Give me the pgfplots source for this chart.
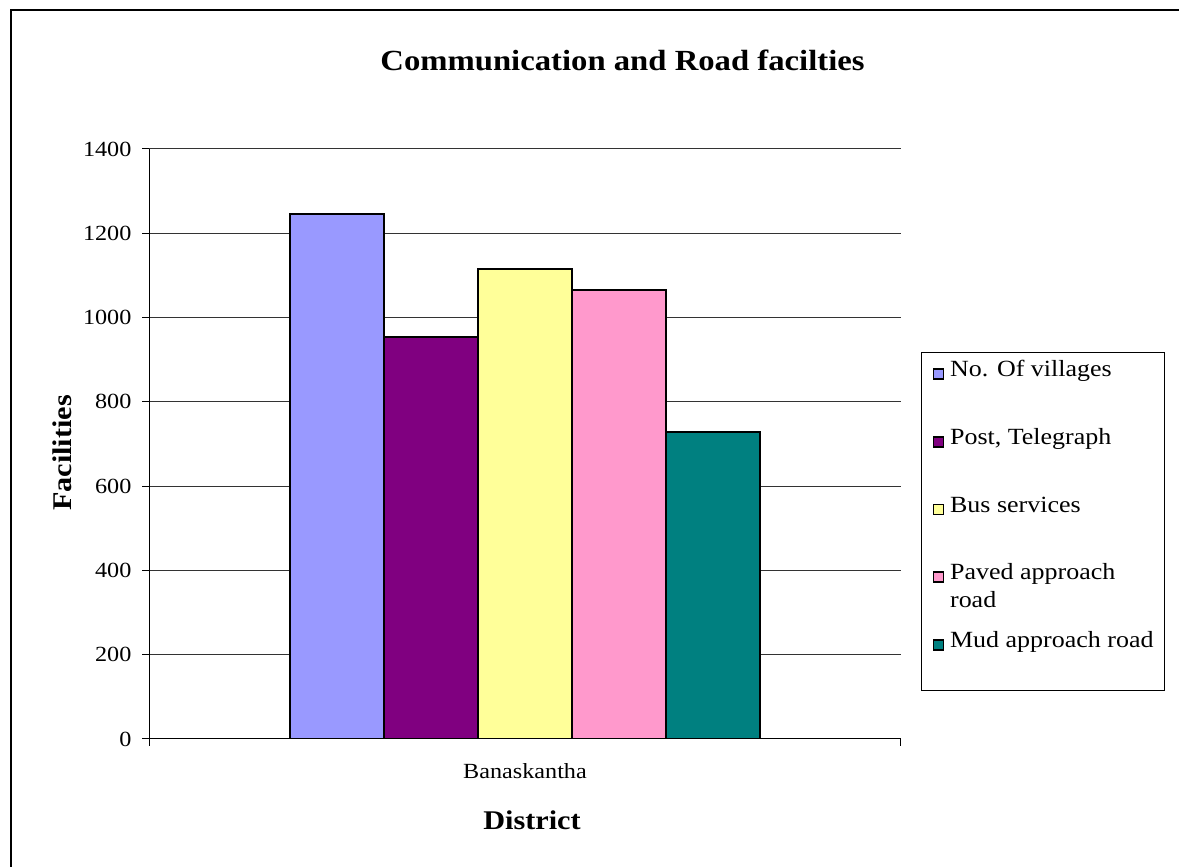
\documentclass[border=0pt]{standalone}
\usepackage{pgfplots}
\pgfplotsset{compat=1.18}
\usepackage{fontspec}
\setmainfont{Liberation Serif}[FakeStretch=1.12]

\definecolor{villages}{HTML}{9999FF}
\definecolor{post}{HTML}{800080}
\definecolor{bus}{HTML}{FFFF99}
\definecolor{paved}{HTML}{FF99CC}
\definecolor{mud}{HTML}{008080}

\begin{document}
\begin{tikzpicture}
\useasboundingbox (0,0) rectangle (589.5pt,433.5pt);
% chart area frame (left and top edges)
\draw[line width=1pt] (5.25pt,-5pt) -- (5.25pt,428.25pt) -- (595pt,428.25pt);
\node[font=\bfseries\fontsize{14.6}{16}\selectfont] at (311.25pt,403.5pt) {Communication and Road facilties};
\begin{axis}[
  at={(74.75pt,64pt)}, anchor=south west,
  scale only axis, width=375.5pt, height=295pt,
  ybar=0pt, bar width=47pt,
  xmin=-1, xmax=1, ymin=0, ymax=1400,
  ytick={0,200,...,1400},
  xtick={-1,1}, xticklabels={},
  extra x ticks={0}, extra x tick labels={Banaskantha},
  extra x tick style={major tick length=0pt, xticklabel style={yshift=-8.5pt}},
  axis x line*=bottom, axis y line*=left,
  axis line style={-, black, line width=0.5pt},
  tick align=outside, major tick length=3.5pt,
  tick style={black, line width=0.5pt},
  ymajorgrids, grid style={black!80, line width=0.5pt},
  /pgf/number format/assume math mode=true,
  /pgf/number format/1000 sep={},
  tick label style={font=\fontsize{10.8}{12}\selectfont},
  yticklabel style={xshift=-2pt},
  xlabel={District}, ylabel={Facilities},
  label style={font=\bfseries\fontsize{13.5}{15}\selectfont},
  xlabel style={at={(axis description cs:0.5093,-0.1373)}, anchor=center},
  ylabel style={at={(axis description cs:-0.1165,0.4847)}, anchor=center},
  legend cell align=left,
  legend image code/.code={\draw[#1,/tikz/.cd,line width=0.8pt] (0pt,3.5pt) rectangle (5pt,8.5pt);},
  legend style={at={(1.0273,0.6559)}, anchor=north west, draw=black, line width=0.5pt,
    inner xsep=5.5pt, inner ysep=2pt, row sep=4.375pt, column sep=3pt,
    font=\fontsize{11.6}{14}\selectfont,
    nodes={inner sep=0pt, text height=10pt, text depth=19.5pt}},
]
\addplot[fill=villages, draw=black, line width=1pt] coordinates {(0,1245)};
\addlegendentry{No. Of villages}
\addplot[fill=post, draw=black, line width=1pt] coordinates {(0,954)};
\addlegendentry{Post, Telegraph}
\addplot[fill=bus, draw=black, line width=1pt] coordinates {(0,1115)};
\addlegendentry{Bus services}
\addplot[fill=paved, draw=black, line width=1pt] coordinates {(0,1066)};
\addlegendentry{\begin{tabular}[t]{@{}l@{}}Paved approach\\road\end{tabular}}
\addplot[fill=mud, draw=black, line width=1pt] coordinates {(0,729)};
\addlegendentry{Mud approach road}
\end{axis}
\end{tikzpicture}
\end{document}
